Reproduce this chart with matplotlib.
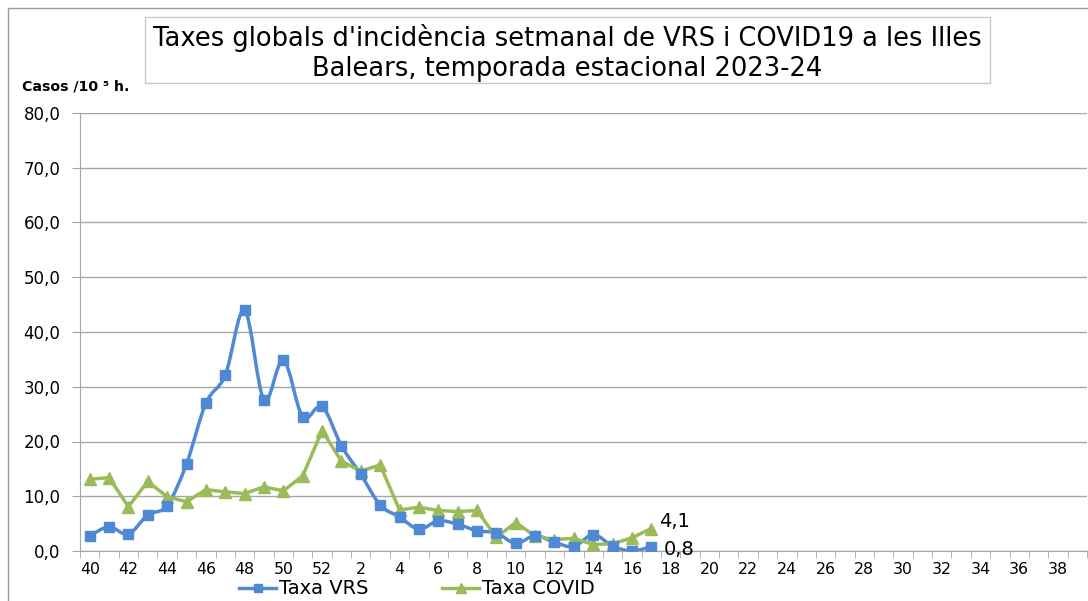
import numpy as np
import matplotlib.pyplot as plt
from matplotlib.patches import Rectangle, PathPatch
from matplotlib.path import Path
from matplotlib.lines import Line2D
from matplotlib.ticker import FuncFormatter, FixedLocator

# Epidemiological weeks of the 2023-24 season (40..52, then 1..39)
weeks = list(range(40, 53)) + list(range(1, 40))
# Weekly incidence rates per 100,000 inhabitants (weeks 40 .. 17)
taxa_vrs = [2.8, 4.4, 3.1, 6.6, 8.3, 15.9, 27.0, 32.1, 44.0, 27.6, 34.9, 24.5, 26.4,
            19.2, 14.0, 8.4, 6.2, 4.0, 5.5, 4.9, 3.7, 3.3, 1.4, 2.8, 1.6, 0.8, 3.0,
            0.9, 0.0, 0.8]
taxa_covid = [13.1, 13.4, 8.1, 12.7, 9.9, 9.0, 11.2, 10.8, 10.5, 11.7, 11.0, 13.7, 22.0,
              16.4, 14.6, 15.7, 7.5, 8.0, 7.4, 7.2, 7.4, 2.5, 5.2, 2.7, 2.1, 2.3, 1.2,
              1.3, 2.4, 4.1]

BLUE = "#4F88D5"
GREEN = "#9BBB59"
GRID = "#a6a6a6"

W, H = 1088, 601
fig = plt.figure(figsize=(W / 100, H / 100), dpi=100)
px = lambda x, y: (x / W, 1 - y / H)


def smooth_path(xs, ys):
    # Excel-style smoothed line: Bezier segments through the points
    xs = np.asarray(xs, float)
    ys = np.asarray(ys, float)
    verts = [(xs[0], ys[0])]
    codes = [Path.MOVETO]
    n = len(xs)
    for i in range(n - 1):
        p0 = np.array([xs[max(i - 1, 0)], ys[max(i - 1, 0)]])
        p1 = np.array([xs[i], ys[i]])
        p2 = np.array([xs[i + 1], ys[i + 1]])
        p3 = np.array([xs[min(i + 2, n - 1)], ys[min(i + 2, n - 1)]])
        c1 = p1 + (p2 - p0) / 6
        c2 = p2 - (p3 - p1) / 6
        verts += [tuple(c1), tuple(c2), tuple(p2)]
        codes += [Path.CURVE4] * 3
    return Path(verts, codes)


# outer chart-area border and title box
fig.patches.append(Rectangle(px(8, 640), (W + 20) / W, 632 / H, transform=fig.transFigure,
                             fill=False, ec="#9a9a9a", lw=1.0))
fig.patches.append(Rectangle(px(145, 83), 845 / W, 66 / H, transform=fig.transFigure,
                             fill=True, fc="white", ec="#c8c8c8", lw=1.0))
fig.text(*px(567, 53), "Taxes globals d'incidència setmanal de VRS i COVID19 a les Illes\n"
         "Balears, temporada estacional 2023-24", ha="center", va="center",
         fontsize=18.5, linespacing=1.22)
fig.text(*px(22, 86), "Casos /10 \u2075 h.", ha="left", va="center", fontsize=10.2,
         fontweight="bold")

ax = fig.add_axes([80 / W, 50 / H, 1007 / W, 438 / H])
x = np.arange(len(weeks))
n = len(taxa_vrs)
ax.add_patch(PathPatch(smooth_path(x[:n], taxa_vrs), fill=False, ec=BLUE, lw=2.5,
                       capstyle="round", joinstyle="round", zorder=3))
ax.plot(x[:n], taxa_vrs, ls="none", color=BLUE, marker="s", ms=6.5, zorder=4)
ax.plot(x[:n], taxa_covid, color=GREEN, lw=2.5, marker="^", ms=8.5, zorder=3)

ax.text(x[n - 1] + 0.4, taxa_covid[-1] + 1.3, f"{taxa_covid[-1]:.1f}".replace(".", ","),
        fontsize=14, ha="left", va="center")
ax.text(x[n - 1] + 0.65, taxa_vrs[-1] - 0.5, f"{taxa_vrs[-1]:.1f}".replace(".", ","),
        fontsize=14, ha="left", va="center")

ax.set_xlim(-0.5, len(weeks) - 0.5)
ax.set_ylim(0, 80)
ax.set_yticks(np.arange(0, 81, 10))
ax.yaxis.set_major_formatter(FuncFormatter(lambda v, p: f"{v:.1f}".replace(".", ",")))
ax.grid(axis="y", color=GRID, lw=1.0)
ax.set_axisbelow(True)

ax.xaxis.set_major_locator(FixedLocator(x[::2]))
ax.set_xticklabels([str(w) for w in weeks[::2]])
ax.xaxis.set_minor_locator(FixedLocator(np.arange(-0.5, len(weeks), 1)))
ax.tick_params(axis="x", which="major", length=0, labelsize=11.3, pad=8)
ax.tick_params(axis="x", which="minor", length=5, color=GRID)
ax.tick_params(axis="y", length=6, color=GRID, labelsize=12, pad=8)

for s in ["top", "right"]:
    ax.spines[s].set_visible(False)
for s in ["left", "bottom"]:
    ax.spines[s].set_color(GRID)

handles = [Line2D([], [], color=BLUE, lw=2.5, marker="s", ms=6),
           Line2D([], [], color=GREEN, lw=2.5, marker="^", ms=7.5)]
fig.legend(handles, ["Taxa VRS", "Taxa COVID"], loc="center", ncol=2,
           bbox_to_anchor=(417 / W, 12 / H), frameon=False, fontsize=14,
           handlelength=1.9, handletextpad=0.15, columnspacing=3.8,
           borderpad=0, borderaxespad=0)

fig.savefig("out.png", dpi=100)
